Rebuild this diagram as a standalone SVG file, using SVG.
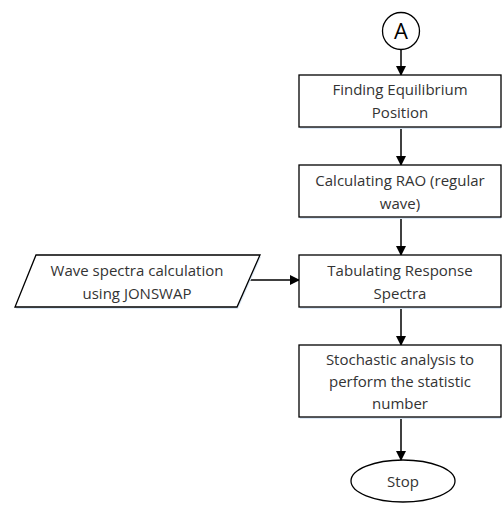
<svg xmlns="http://www.w3.org/2000/svg" width="502" height="505" viewBox="0 0 502 505">
<style>
.s{fill:#fff;stroke:#000;stroke-width:1.3}
.sh{fill:#dce9f6;stroke:none}
.t{font-family:"Open Sans","Liberation Sans",sans-serif;font-size:15px;fill:#333;text-anchor:middle}
.c{stroke:#000;stroke-width:1.5;fill:none}
</style>
<defs>
<marker id="ah" markerWidth="10" markerHeight="10" refX="9" refY="5" orient="auto" markerUnits="userSpaceOnUse">
<path d="M0,0 L10,5 L0,10 Z" fill="#000"/>
</marker>
</defs>
<g id="connectors">
<line class="c" x1="401" y1="50" x2="401" y2="75" marker-end="url(#ah)"/>
<line class="c" x1="401" y1="127" x2="401" y2="165" marker-end="url(#ah)"/>
<line class="c" x1="401" y1="217" x2="401" y2="255" marker-end="url(#ah)"/>
<line class="c" x1="249" y1="280" x2="299" y2="280" marker-end="url(#ah)"/>
<line class="c" x1="401" y1="307" x2="401" y2="345" marker-end="url(#ah)"/>
<line class="c" x1="401" y1="417" x2="401" y2="460" marker-end="url(#ah)"/>
</g>
<g id="nodeA">
<circle class="s" cx="401" cy="31" r="18.5"/>
<text class="t" x="401" y="39" style="font-size:22px;fill:#000">A</text>
</g>
<g id="node1">
<rect class="sh" x="300" y="77" width="201" height="52"/>
<rect class="s" x="299" y="75" width="202" height="52"/>
<text class="t" x="400" y="95">Finding Equilibrium</text>
<text class="t" x="400" y="118">Position</text>
</g>
<g id="node2">
<rect class="sh" x="300" y="167" width="201" height="52"/>
<rect class="s" x="299" y="165" width="202" height="52"/>
<text class="t" x="400" y="186">Calculating RAO (regular</text>
<text class="t" x="400" y="209">wave)</text>
</g>
<g id="node3">
<rect class="sh" x="300" y="257" width="201" height="52"/>
<rect class="s" x="299" y="255" width="202" height="52"/>
<text class="t" x="400" y="276">Tabulating Response</text>
<text class="t" x="400" y="299">Spectra</text>
</g>
<g id="input">
<polygon class="sh" points="37,257 261,257 238,309 16,309"/>
<polygon class="s" points="36,255 260,255 237,307 15,307"/>
<text class="t" x="137" y="276">Wave spectra calculation</text>
<text class="t" x="137" y="299">using JONSWAP</text>
</g>
<g id="node4">
<rect class="sh" x="300" y="347" width="201" height="72"/>
<rect class="s" x="299" y="345" width="202" height="72"/>
<text class="t" x="400" y="365">Stochastic analysis to</text>
<text class="t" x="400" y="387">perform the statistic</text>
<text class="t" x="400" y="409">number</text>
</g>
<g id="stop">
<ellipse class="s" cx="403" cy="481" rx="52" ry="21"/>
<text class="t" x="403" y="487">Stop</text>
</g>
</svg>
